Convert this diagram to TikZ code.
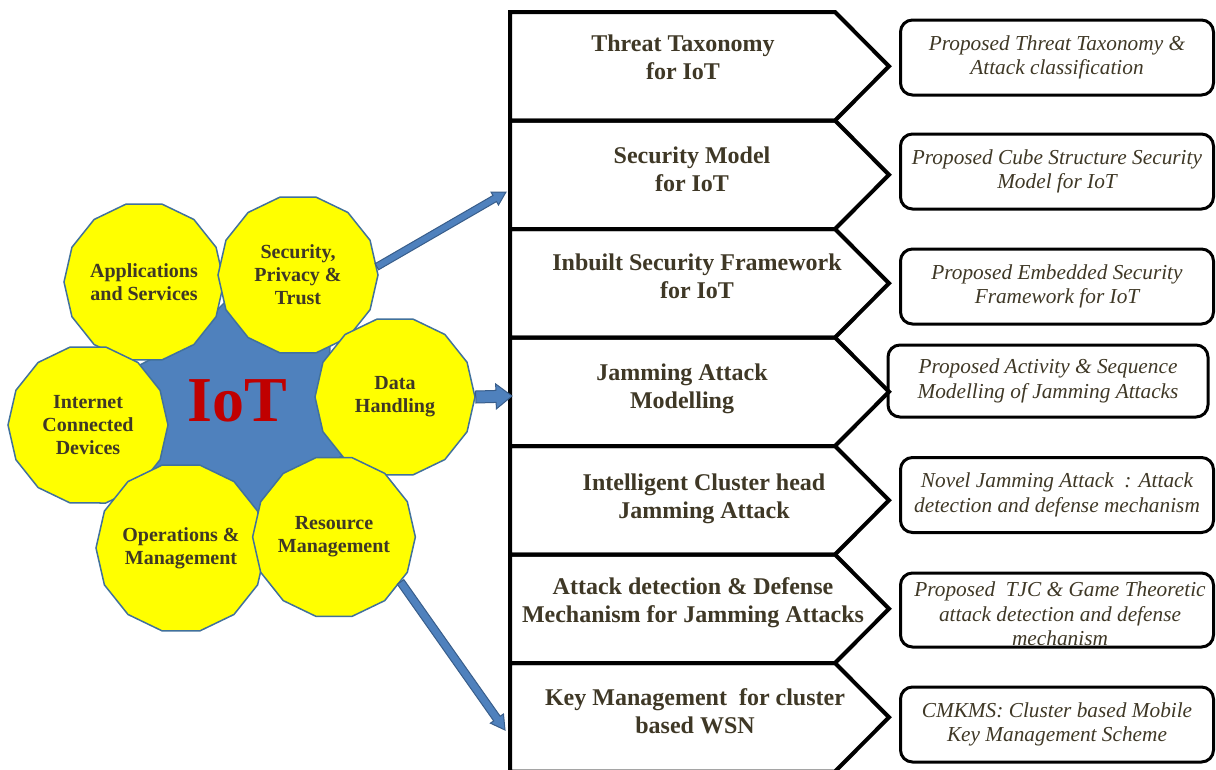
\documentclass[tikz,border=0pt]{standalone}
\usepackage{fontspec}
\setmainfont{Liberation Serif}
\usetikzlibrary{shapes.geometric,calc}
\definecolor{yel}{HTML}{FFFF00}
\definecolor{cedge}{HTML}{41719C}
\definecolor{sfill}{HTML}{4F81BD}
\definecolor{aedge}{HTML}{385D8A}
\definecolor{iotred}{HTML}{C00000}
\definecolor{txt}{HTML}{3F3826}
\newcommand\blockarrow[6]{%
  \coordinate (#6n) at ($(#2)!#5!(#1)$);
  \draw[arrowst] ($(#1)!#3!90:(#2)$) -- ($(#6n)!#3!-90:(#1)$) -- ($(#6n)!#4!-90:(#1)$) -- (#2)
     -- ($(#6n)!#4!90:(#1)$) -- ($(#6n)!#3!90:(#1)$) -- ($(#1)!#3!-90:(#2)$) -- cycle;
}
\newcommand\chevshape[1]{%
  \draw[chevst] (510,#1) -- (835,#1) -- (889,{#1+54.25}) -- (835,{#1+108.5}) -- (510,{#1+108.5}) -- cycle;
}
\begin{document}
\begin{tikzpicture}[x=1pt,y=-1pt,
  petal/.style={regular polygon, regular polygon sides=14, minimum size=160pt, inner sep=0pt,
    fill=yel, draw=cedge, line width=1.5pt, font=\bfseries\fontsize{20}{23}\selectfont, text=txt, align=center},
  chevst/.style={draw=black, line width=4pt, line join=miter},
  chevtext/.style={font=\bfseries\fontsize{24}{28}\selectfont, text=txt, align=center},
  boxtext/.style={inner sep=0pt, font=\itshape\fontsize{21.3}{24.5}\selectfont, text=txt, align=center},
  pbox/.style={boxtext, draw=black, line width=3pt, rounded corners=12pt, minimum width=313pt, minimum height=75pt},
  arrowst/.style={fill=sfill, draw=aedge, line width=1pt, line join=miter}]
\useasboundingbox (0,0) rectangle (1216,769);
\fill[white] (0,0) rectangle (1216,769);

% core star
\node[star, star points=6, star point ratio=1.27, minimum size=224pt, inner sep=0pt,
  shape border rotate=6.5, fill=sfill, draw=cedge, line width=1.5pt] (core) at (240,411) {};

% petals
\node[petal] (apps) at (144,282) {Applications\\and Services};
\node[petal] (sec) at (298,275) {Security,\\Privacy \&\\Trust};
\node[petal] (data) at (395,397) {Data\\Handling};
\node[petal] (inet) at (88,425) {Internet\\Connected\\Devices};
\node[petal] (ops) at (181,548) {Operations \&\\Management};
\node[petal] (res) at (334,537) {Resource\\Management};
\node[font=\bfseries\fontsize{64}{64}\selectfont, text=iotred] (iot) at (237,401) {IoT};

% chevrons
\chevshape{12}
\chevshape{120.5}
\chevshape{229}
\chevshape{337.5}
\chevshape{446}
\chevshape{554.5}
\chevshape{663}
\node[chevtext] (c1) at (683,57.5) {Threat Taxonomy\\for IoT};
\node[chevtext] (c2) at (692,169) {Security Model\\for IoT};
\node[chevtext] (c3) at (697,276) {Inbuilt Security Framework\\for IoT};
\node[chevtext] (c4) at (682,389) {Jamming Attack\\Modelling};
\node[chevtext] (c5) at (704,499) {Intelligent Cluster head\\Jamming Attack};
\node[chevtext] (c6) at (693,602.5) {Attack detection \& Defense\\Mechanism for Jamming Attacks};
\node[chevtext] (c7) at (695,711) {Key Management\ \ for cluster\\based WSN};

% result boxes
\node[pbox] (b1) at (1057,57.5) {Proposed Threat Taxonomy \&\\Attack classification};
\node[pbox] (b2) at (1057,171.5) {Proposed Cube Structure Security\\Model for IoT};
\node[pbox] (b3) at (1057,286.5) {Proposed Embedded Security\\Framework for IoT};
\node[pbox, minimum width=320pt, minimum height=72pt] (b4) at (1048,381) {Proposed Activity \& Sequence\\Modelling of Jamming Attacks};
\node[pbox] (b5) at (1057,495) {Novel Jamming Attack\ \ : Attack\\detection and defense mechanism};
\node[pbox, minimum height=74pt] (b6) at (1057,610) {};
\node[boxtext] (b6t) at (1060,614) {Proposed\ \ TJC \& Game Theoretic\\attack detection and defense\\mechanism};
\node[pbox] (b7) at (1057,724.5) {CMKMS: Cluster based Mobile\\Key Management Scheme};

% arrows
\coordinate (t1) at (506,192);
\coordinate (t2) at (512,396);
\coordinate (t3) at (505,730);
\blockarrow{sec.6}{t1}{3.5pt}{7.5pt}{13pt}{a}
\blockarrow{data.0}{t2}{6pt}{12.5pt}{16pt}{b}
\blockarrow{res.-34}{t3}{4pt}{8pt}{14pt}{c}
\end{tikzpicture}
\end{document}
